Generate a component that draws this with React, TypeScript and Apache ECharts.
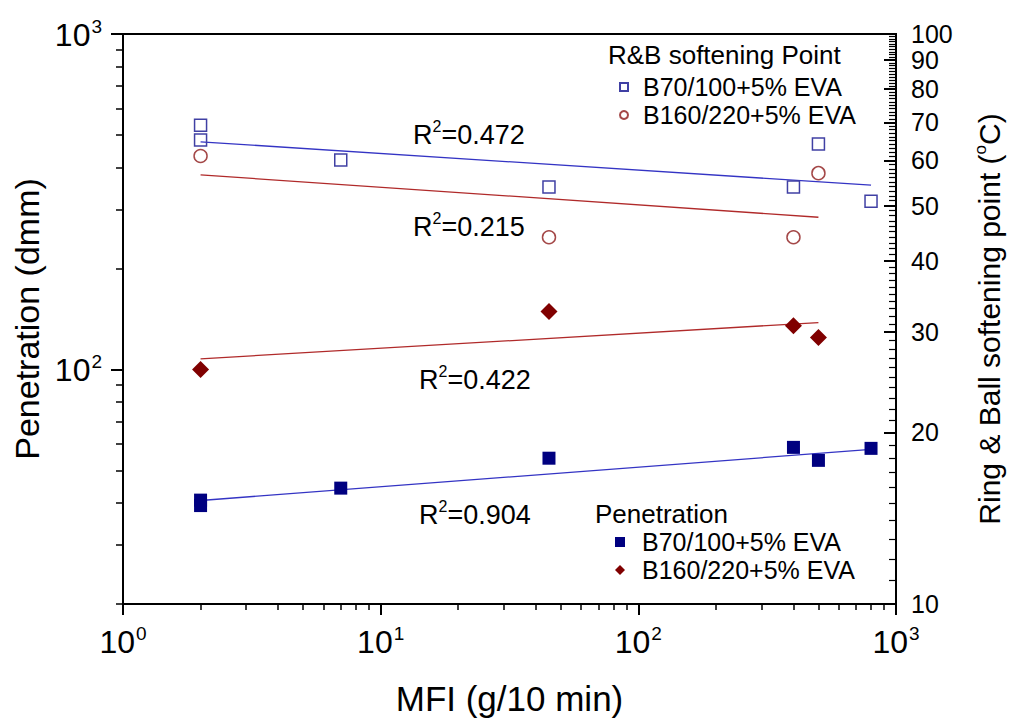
import React, { useEffect, useRef } from 'react';
import * as echarts from 'echarts';

// ---------------- data ----------------
// Penetration (left axis, dmm) vs MFI (g/10 min)
const mfiPenB70 = [2, 2, 7, 45, 400, 500, 800];
const penB70 = [40.8, 39.3, 44.3, 54.4, 58.6, 53.6, 58.2];
const mfiPenB160 = [2, 45, 400, 500];
const penB160 = [100, 149, 135, 124.5];

// Ring & Ball softening point (right axis, °C) vs MFI
const mfiRbB70 = [2, 2, 7, 45, 400, 500, 800];
const rbB70 = [69.2, 65.2, 60.1, 53.9, 53.9, 64.1, 50.9];
const mfiRbB160 = [2, 45, 400, 500];
const rbB160 = [61.1, 44.0, 44.0, 57.0];

// Trend lines (end points, MFI and value)
const fitPenB70X = [2, 800];
const fitPenB70Y = [40.7, 57.8];
const fitPenB160X = [2, 500];
const fitPenB160Y = [107.6, 138];
const fitRbB70X = [2, 800];
const fitRbB70Y = [64.7, 54.3];
const fitRbB160X = [2, 500];
const fitRbB160Y = [56.6, 47.7];

// R² annotations
const r2Values = ['0.472', '0.215', '0.422', '0.904'];

// Tick values
const xMajorTicks = [1, 10, 100, 1000];
const xMinorTicks = [2, 3, 4, 5, 6, 7, 8, 9, 20, 30, 40, 50, 60, 70, 80, 90, 200, 300, 400, 500, 600, 700, 800, 900];
const leftMajorTicks = [100, 1000];
const leftMinorTicks = [20, 30, 40, 50, 60, 70, 80, 90, 200, 300, 400, 500, 600, 700, 800, 900];
const rightMajorTicks = [10, 20, 30, 40, 50, 60, 70, 80, 90, 100];
const rightMinorTicks = [
  11, 12, 13, 14, 15, 16, 17, 18, 19,
  21, 22, 23, 24, 25, 26, 27, 28, 29,
  31, 32, 33, 34, 35, 36, 37, 38, 39,
  41, 42, 43, 44, 45, 46, 47, 48, 49,
  51, 52, 53, 54, 55, 56, 57, 58, 59,
  61, 62, 63, 64, 65, 66, 67, 68, 69,
  71, 72, 73, 74, 75, 76, 77, 78, 79,
  81, 82, 83, 84, 85, 86, 87, 88, 89,
  91, 92, 93, 94, 95, 96, 97, 98, 99,
];

const legendLabels: Record<string, string> = {
  rb70: 'B70/100+5% EVA',
  rb160: 'B160/220+5% EVA',
  pen70: 'B70/100+5% EVA',
  pen160: 'B160/220+5% EVA',
};

const FONT = "'Liberation Sans', Arial, Helvetica, sans-serif";

const zip = (xs: number[], ys: number[]) => xs.map((x, i) => [x, ys[i]]);

const supRich = {
  b: { fontSize: 32, fontFamily: FONT, color: '#000', lineHeight: 34, verticalAlign: 'bottom' },
  s: { fontSize: 19, fontFamily: FONT, color: '#000', lineHeight: 19, verticalAlign: 'top', padding: [0, 0, 0, 1] },
};
const supLabel = (v: number) => `{b|10}{s|${Math.round(Math.log10(v))}}`;

const r2Rich = {
  a: { fontSize: 27, fontFamily: FONT, fill: '#000', lineHeight: 30, verticalAlign: 'bottom' },
  s: { fontSize: 16, fontFamily: FONT, fill: '#000', lineHeight: 16, verticalAlign: 'top' },
};

const r2Pos = [
  [413, 133],
  [413, 225],
  [419, 378],
  [419, 513],
];

export default function App() {
  const ref = useRef<HTMLDivElement>(null);

  useEffect(() => {
    if (!ref.current) return;
    const chart = echarts.init(ref.current, undefined, { renderer: 'svg' });

    const minorAxisCommon = {
      type: 'log' as const,
      logBase: 10,
      axisLine: { show: false },
      axisLabel: { show: false },
      splitLine: { show: false },
      minorTick: { show: false },
      silent: true,
    };

    const fitLine = (name: string, xs: number[], ys: number[], yIdx: number, color: string) => ({
      name,
      type: 'line',
      xAxisIndex: 0,
      yAxisIndex: yIdx,
      data: zip(xs, ys),
      symbol: 'none',
      silent: true,
      lineStyle: { color, width: 1.3 },
      z: 2,
    });

    const option: any = {
      animation: false,
      backgroundColor: '#fff',
      grid: {
        left: 123,
        right: 115,
        top: 34,
        bottom: 118,
        show: true,
        borderColor: '#000',
        borderWidth: 2,
        backgroundColor: 'transparent',
      },
      xAxis: [
        {
          type: 'log',
          logBase: 10,
          min: 1,
          max: 1000,
          position: 'bottom',
          name: 'MFI (g/10 min)',
          nameLocation: 'middle',
          nameGap: 77,
          nameTextStyle: { fontSize: 35, fontFamily: FONT, color: '#000' },
          axisLine: { show: true, lineStyle: { color: '#000', width: 2 } },
          axisTick: { show: true, inside: false, length: 11, lineStyle: { color: '#000', width: 2 }, customValues: xMajorTicks },
          axisLabel: { show: true, margin: 20, customValues: xMajorTicks, formatter: supLabel, rich: supRich },
          splitLine: { show: false },
          minorTick: { show: false },
        },
        {
          ...minorAxisCommon,
          min: 1,
          max: 1000,
          position: 'bottom',
          axisTick: { show: true, inside: false, length: 6, lineStyle: { color: '#000', width: 1.5 }, customValues: xMinorTicks },
        },
      ],
      yAxis: [
        {
          type: 'log',
          logBase: 10,
          min: 20,
          max: 1000,
          position: 'left',
          name: 'Penetration (dmm)',
          nameLocation: 'middle',
          nameGap: 79,
          nameTextStyle: { fontSize: 34, fontFamily: FONT, color: '#000' },
          axisLine: { show: true, lineStyle: { color: '#000', width: 2 } },
          axisTick: { show: true, inside: false, length: 12, lineStyle: { color: '#000', width: 2 }, customValues: leftMajorTicks },
          axisLabel: { show: true, margin: 21, customValues: leftMajorTicks, formatter: supLabel, rich: supRich },
          splitLine: { show: false },
          minorTick: { show: false },
        },
        {
          ...minorAxisCommon,
          min: 20,
          max: 1000,
          position: 'left',
          axisTick: { show: true, inside: false, length: 7, lineStyle: { color: '#000', width: 1.5 }, customValues: leftMinorTicks },
        },
        {
          type: 'log',
          logBase: 10,
          min: 10,
          max: 100,
          position: 'right',
          name: '{n|Ring & Ball softening point (}{s|o}{n|C)}',
          nameLocation: 'middle',
          nameGap: 76,
          nameTextStyle: {
            rich: {
              n: { fontSize: 30, fontFamily: FONT, color: '#000', lineHeight: 32, verticalAlign: 'bottom' },
              s: { fontSize: 17, fontFamily: FONT, color: '#000', lineHeight: 17, verticalAlign: 'top' },
            },
          },
          axisLine: { show: true, lineStyle: { color: '#000', width: 2 } },
          axisTick: { show: true, inside: true, length: 12, lineStyle: { color: '#000', width: 2 }, customValues: rightMajorTicks },
          axisLabel: {
            show: true,
            margin: 15,
            customValues: rightMajorTicks,
            fontSize: 25,
            lineHeight: 22,
            fontFamily: FONT,
            color: '#000',
          },
          splitLine: { show: false },
          minorTick: { show: false },
        },
        {
          ...minorAxisCommon,
          min: 10,
          max: 100,
          position: 'right',
          axisTick: { show: true, inside: true, length: 7, lineStyle: { color: '#000', width: 1.2 }, customValues: rightMinorTicks },
        },
      ],
      legend: [
        {
          data: ['rb70', 'rb160'],
          orient: 'vertical',
          left: 619,
          top: 73,
          padding: 0,
          itemGap: 0,
          itemWidth: 8,
          itemHeight: 8,
          selectedMode: false,
          formatter: (n: string) => legendLabels[n],
          textStyle: { fontSize: 25, lineHeight: 28, fontFamily: FONT, color: '#000', padding: [0, 0, 0, 10] },
        },
        {
          data: ['pen70', 'pen160'],
          orient: 'vertical',
          left: 615,
          top: 528,
          padding: 0,
          itemGap: 0,
          itemWidth: 10,
          itemHeight: 10,
          selectedMode: false,
          formatter: (n: string) => legendLabels[n],
          textStyle: { fontSize: 25, lineHeight: 28, fontFamily: FONT, color: '#000', padding: [0, 0, 0, 12] },
        },
      ],
      graphic: [
        {
          type: 'text',
          x: 608,
          y: 55,
          silent: true,
          style: { text: 'R&B softening Point', fontSize: 26, fontFamily: FONT, fill: '#000', verticalAlign: 'middle' },
        },
        {
          type: 'text',
          x: 595,
          y: 514,
          silent: true,
          style: { text: 'Penetration', fontSize: 26, fontFamily: FONT, fill: '#000', verticalAlign: 'middle' },
        },
        ...r2Values.map((v, i) => ({
          type: 'text',
          x: r2Pos[i][0],
          y: r2Pos[i][1],
          silent: true,
          style: {
            text: `{a|R}{s|2}{a|=${v}}`,
            rich: r2Rich,
            fill: '#000',
            verticalAlign: 'middle',
          },
        })),
      ],
      series: [
        fitLine('fitPen70', fitPenB70X, fitPenB70Y, 0, '#3434c4'),
        fitLine('fitPen160', fitPenB160X, fitPenB160Y, 0, '#b02a2a'),
        fitLine('fitRb70', fitRbB70X, fitRbB70Y, 2, '#3434c4'),
        fitLine('fitRb160', fitRbB160X, fitRbB160Y, 2, '#b02a2a'),
        {
          name: 'pen70',
          type: 'scatter',
          xAxisIndex: 0,
          yAxisIndex: 0,
          data: zip(mfiPenB70, penB70),
          symbol: 'rect',
          symbolSize: 13,
          itemStyle: { color: '#000080', opacity: 1 },
          z: 5,
        },
        {
          name: 'pen160',
          type: 'scatter',
          xAxisIndex: 0,
          yAxisIndex: 0,
          data: zip(mfiPenB160, penB160),
          symbol: 'diamond',
          symbolSize: 17,
          itemStyle: { color: '#800000', opacity: 1 },
          z: 5,
        },
        {
          name: 'rb70',
          type: 'scatter',
          xAxisIndex: 0,
          yAxisIndex: 2,
          data: zip(mfiRbB70, rbB70),
          symbol: 'rect',
          symbolSize: 12,
          itemStyle: { color: 'rgba(255,255,255,0)', borderColor: '#4040a4', borderWidth: 1.5, opacity: 1 },
          z: 5,
        },
        {
          name: 'rb160',
          type: 'scatter',
          xAxisIndex: 0,
          yAxisIndex: 2,
          data: zip(mfiRbB160, rbB160),
          symbol: 'circle',
          symbolSize: 13,
          itemStyle: { color: 'rgba(255,255,255,0)', borderColor: '#a44848', borderWidth: 1.5, opacity: 1 },
          z: 5,
        },
      ],
    };

    chart.setOption(option);
    return () => chart.dispose();
  }, []);

  return <div ref={ref} style={{ position: 'fixed', left: 0, top: 0, width: 1012, height: 722, background: '#fff' }} />;
}
